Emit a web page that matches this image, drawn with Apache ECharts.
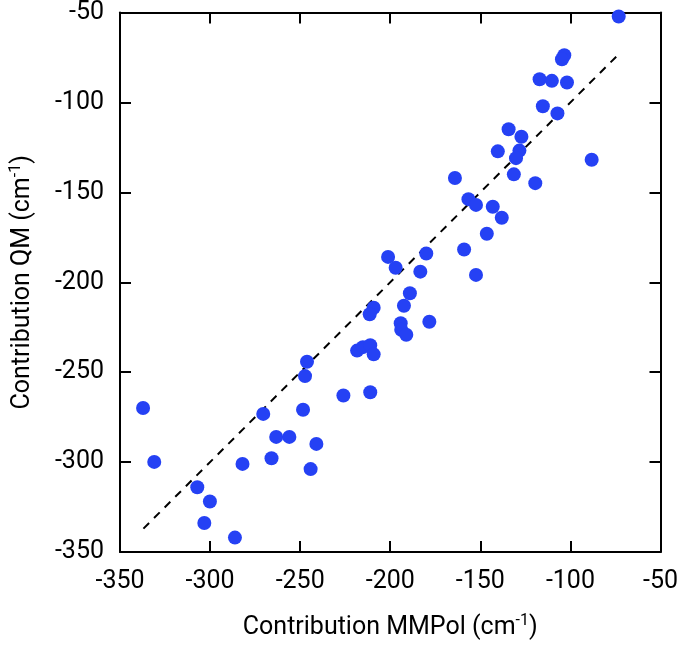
<!DOCTYPE html>
<html>
<head>
<meta charset="utf-8">
<script src="https://cdn.jsdelivr.net/npm/echarts@6/dist/echarts.min.js"></script>
<style>html,body{margin:0;padding:0;background:#fff}#c{width:681px;height:648px}</style>
</head>
<body>
<div id="c"></div>
<script>
var mmpol = [-73.2,-103.4,-104.7,-117.1,-110.3,-101.9,-115.3,-107.2,-134.3,-127.2,-140.3,-128.3,-130.2,-88.2,-131.4,-164.1,-119.5,-156.6,-152.4,-143.1,-138.1,-146.4,-159.0,-180.0,-201.2,-197.0,-183.3,-152.4,-189.1,-192.4,-194.2,-193.9,-191.1,-178.3,-209.2,-211.4,-218.4,-215.2,-211.1,-209.2,-246.2,-247.3,-226.0,-211.1,-337.2,-270.5,-248.4,-263.3,-256.0,-241.0,-331.0,-265.9,-282.0,-244.2,-307.1,-300.1,-303.2,-286.2];
var qm = [-52.2,-73.8,-76.0,-87.1,-88.0,-88.9,-102.1,-106.1,-114.9,-119.1,-127.2,-126.8,-131.0,-131.9,-140.0,-142.0,-144.9,-153.8,-157.0,-158.0,-164.1,-173.0,-181.8,-184.0,-185.9,-191.9,-194.1,-195.9,-206.1,-213.1,-222.8,-226.4,-229.2,-222.0,-214.2,-217.8,-238.0,-236.1,-235.0,-240.1,-244.2,-252.2,-263.0,-261.2,-269.9,-273.2,-270.9,-286.0,-286.0,-289.9,-299.9,-297.9,-301.0,-303.9,-314.0,-321.9,-333.9,-342.0];
var fitLineX = [-337, -74];
var fitLineY = [-337, -74];
var axisMin = -350, axisMax = -50, axisStep = 50;

var points = mmpol.map(function(v, i){ return [v, qm[i]]; });
var linePts = fitLineX.map(function(v, i){ return [v, fitLineY[i]]; });

var font = 'Roboto';
var chart = echarts.init(document.getElementById('c'), null, {renderer:'canvas'});
var axisCommon = {
  type:'value', min:axisMin, max:axisMax, interval:axisStep,
  axisLine:{show:true, onZero:false, lineStyle:{color:'#000', width:2}},
  axisTick:{show:true, inside:true, length:11, lineStyle:{color:'#000', width:2}},
  splitLine:{show:false}
};
var nameStyle = {color:'#000', fontFamily:font, fontSize:25, lineHeight:30,
  rich:{sup:{fontFamily:font, fontSize:16, color:'#000', verticalAlign:'top', lineHeight:30}}};
chart.setOption({
  backgroundColor:'#fff',
  animation:false,
  grid:{left:116, right:18, top:10, bottom:91, containLabel:false},
  xAxis:[
    Object.assign({}, axisCommon, {
      position:'bottom',
      axisLabel:{color:'#000', fontFamily:font, fontSize:25, margin:17},
      name:'Contribution MMPol (cm{sup|-1})',
      nameLocation:'middle', nameGap:61,
      nameTextStyle:nameStyle
    }),
    Object.assign({}, axisCommon, {position:'top', axisLabel:{show:false}})
  ],
  yAxis:[
    Object.assign({}, axisCommon, {
      position:'left',
      axisLabel:{color:'#000', fontFamily:font, fontSize:25, margin:16},
      name:'Contribution QM (cm{sup|-1})',
      nameLocation:'middle', nameGap:82, nameRotate:90,
      nameTextStyle:nameStyle
    }),
    Object.assign({}, axisCommon, {position:'right', axisLabel:{show:false}})
  ],
  series:[
    {type:'line', data:linePts, xAxisIndex:0, yAxisIndex:0, symbol:'none',
     lineStyle:{color:'#000', width:2, type:[8,7]}, z:1},
    {type:'scatter', data:points, xAxisIndex:0, yAxisIndex:0, symbol:'circle', symbolSize:14,
     itemStyle:{color:'#2541f4', opacity:1}, z:2}
  ]
});
</script>
</body>
</html>
